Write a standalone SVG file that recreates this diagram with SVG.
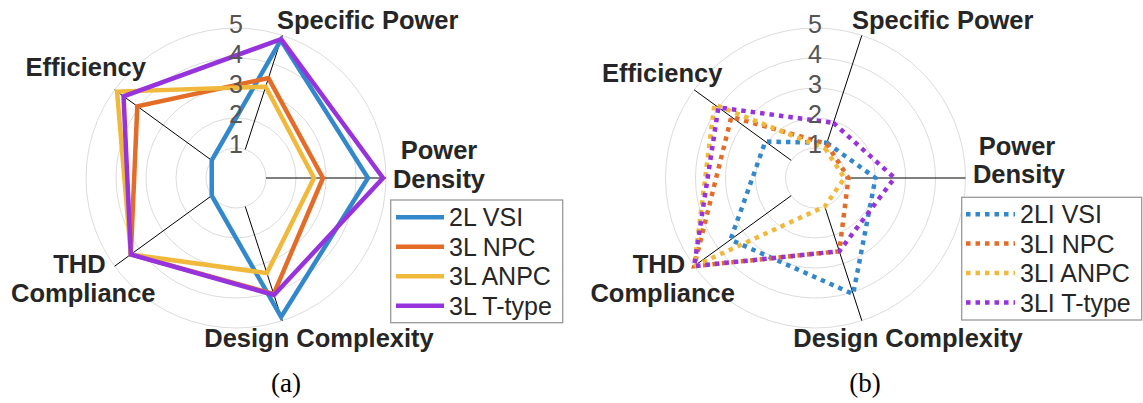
<svg xmlns="http://www.w3.org/2000/svg" width="1143" height="403" viewBox="0 0 1143 403">
<style>
.ring{fill:none;stroke:#dcdcdc;stroke-width:1}
.ax{stroke:#000;stroke-width:1;fill:none}
.s{fill:none;stroke-width:4.5;stroke-linejoin:miter}
.d{fill:none;stroke-width:4.5;stroke-dasharray:4.5 5;stroke-linejoin:miter}
.b{stroke:#3388CC}.o{stroke:#E36D28}.y{stroke:#F1B93C}.p{stroke:#9733DD}
.lbl{font-family:"Liberation Sans",Arial,sans-serif;font-weight:bold;font-size:25.5px;fill:#262626}
.num{font-family:"Liberation Sans",Arial,sans-serif;font-size:25px;fill:#555;text-anchor:middle}
.leg{font-family:"Liberation Sans",Arial,sans-serif;font-size:25px;fill:#262626}
.box{fill:#fff;stroke:#999;stroke-width:1.3}
.cap{font-family:"Liberation Serif","Times New Roman",serif;font-size:27px;fill:#000;text-anchor:middle}
</style>
<rect width="1143" height="403" fill="#fff"/>

<g id="chart-a">
  <g id="grid-a">
    <circle class="ring" cx="236" cy="178" r="30"/>
    <circle class="ring" cx="236" cy="178" r="60"/>
    <circle class="ring" cx="236" cy="178" r="90"/>
    <circle class="ring" cx="236" cy="178" r="120"/>
    <circle class="ring" cx="236" cy="178" r="150"/>
  </g>
  <g id="connectors-a">
    <line class="ax" x1="266" y1="178" x2="386" y2="178"/>
    <line class="ax" x1="245.27" y1="149.47" x2="282.35" y2="35.34"/>
    <line class="ax" x1="211.73" y1="160.37" x2="114.65" y2="89.83"/>
    <line class="ax" x1="211.73" y1="195.63" x2="114.65" y2="266.17"/>
    <line class="ax" x1="245.27" y1="206.53" x2="282.35" y2="320.66"/>
  </g>
  <g id="data-a">
    <polygon class="s b" points="280.81,40.10 368,178 281.12,316.85 211.73,195.63 211.73,160.37"/>
    <polygon class="s o" points="268.45,78.14 323,178 273.70,294.03 130.83,254.41 137.30,106.29"/>
    <polygon class="s y" points="265.67,86.70 314,178 266.90,273.11 130.83,254.41 117.07,91.59"/>
    <polygon class="s p" points="281.12,39.15 383,178 274.01,294.98 130.83,254.41 123.55,96.30"/>
  </g>
  <g id="ticks-a">
    <text class="num" x="236" y="153">1</text>
    <text class="num" x="236" y="123">2</text>
    <text class="num" x="236" y="93">3</text>
    <text class="num" x="236" y="63">4</text>
    <text class="num" x="236" y="33">5</text>
  </g>
  <g id="labels-a">
    <text class="lbl" x="277" y="29">Specific Power</text>
    <text class="lbl" x="439" y="159.3" text-anchor="middle">Power</text>
    <text class="lbl" x="439" y="188.3" text-anchor="middle">Density</text>
    <text class="lbl" x="319" y="347.3" text-anchor="middle">Design Complexity</text>
    <text class="lbl" x="79.5" y="273.3" text-anchor="middle">THD</text>
    <text class="lbl" x="83.3" y="301.7" text-anchor="middle">Compliance</text>
    <text class="lbl" x="25.5" y="76">Efficiency</text>
  </g>
  <g id="legend-a">
    <rect class="box" x="390.7" y="200" width="172" height="122.7"/>
    <line class="s b" x1="396" y1="217.3" x2="444" y2="217.3"/>
    <line class="s o" x1="396" y1="246.8" x2="444" y2="246.8"/>
    <line class="s y" x1="396" y1="276.3" x2="444" y2="276.3"/>
    <line class="s p" x1="396" y1="305.8" x2="444" y2="305.8"/>
    <text class="leg" x="449" y="226">2L VSI</text>
    <text class="leg" x="449" y="255.5">3L NPC</text>
    <text class="leg" x="449" y="285">3L ANPC</text>
    <text class="leg" x="449" y="314.5">3L T-type</text>
  </g>
  <text id="caption-a" class="cap" x="286" y="392">(a)</text>
</g>

<g id="chart-b">
  <g id="grid-b">
    <circle class="ring" cx="815.5" cy="178" r="30"/>
    <circle class="ring" cx="815.5" cy="178" r="60"/>
    <circle class="ring" cx="815.5" cy="178" r="90"/>
    <circle class="ring" cx="815.5" cy="178" r="120"/>
    <circle class="ring" cx="815.5" cy="178" r="150"/>
  </g>
  <g id="connectors-b">
    <line class="ax" x1="845.5" y1="178" x2="965.5" y2="178"/>
    <line class="ax" x1="824.77" y1="149.47" x2="861.85" y2="35.34"/>
    <line class="ax" x1="791.23" y1="160.37" x2="694.15" y2="89.83"/>
    <line class="ax" x1="791.23" y1="195.63" x2="694.15" y2="266.17"/>
    <line class="ax" x1="824.77" y1="206.53" x2="861.85" y2="320.66"/>
  </g>
  <g id="data-b">
    <polygon class="d b" points="826.93,142.81 875.5,178 853.20,294.03 730.55,239.72 765.34,141.56"/>
    <polygon class="d o" points="826.62,143.76 848.5,178 839.29,251.23 694.15,266.17 731.36,116.87"/>
    <polygon class="d y" points="825.08,148.52 844.5,178 824.77,206.53 694.15,266.17 714.37,104.53"/>
    <polygon class="d p" points="833.42,122.84 894.5,178 839.29,251.23 694.15,266.17 718.42,107.47"/>
  </g>
  <g id="ticks-b">
    <text class="num" x="815" y="153">1</text>
    <text class="num" x="815" y="123">2</text>
    <text class="num" x="815" y="93">3</text>
    <text class="num" x="815" y="63">4</text>
    <text class="num" x="815" y="33">5</text>
  </g>
  <g id="labels-b">
    <text class="lbl" x="852" y="29">Specific Power</text>
    <text class="lbl" x="1017" y="155" text-anchor="middle">Power</text>
    <text class="lbl" x="1019" y="183.3" text-anchor="middle">Density</text>
    <text class="lbl" x="908" y="347.3" text-anchor="middle">Design Complexity</text>
    <text class="lbl" x="659" y="272.7" text-anchor="middle">THD</text>
    <text class="lbl" x="662.7" y="301.7" text-anchor="middle">Compliance</text>
    <text class="lbl" x="602" y="81.5">Efficiency</text>
  </g>
  <g id="legend-b">
    <rect class="box" x="961.7" y="197.3" width="180" height="122.7"/>
    <line class="d b" x1="966" y1="214.3" x2="1015" y2="214.3"/>
    <line class="d o" x1="966" y1="243.6" x2="1015" y2="243.6"/>
    <line class="d y" x1="966" y1="273.1" x2="1015" y2="273.1"/>
    <line class="d p" x1="966" y1="302.6" x2="1015" y2="302.6"/>
    <text class="leg" x="1020" y="223.3">2LI VSI</text>
    <text class="leg" x="1020" y="252.6">3LI NPC</text>
    <text class="leg" x="1020" y="282.1">3LI ANPC</text>
    <text class="leg" x="1020" y="311.6">3LI T-type</text>
  </g>
  <text id="caption-b" class="cap" x="865" y="392">(b)</text>
</g>
</svg>
